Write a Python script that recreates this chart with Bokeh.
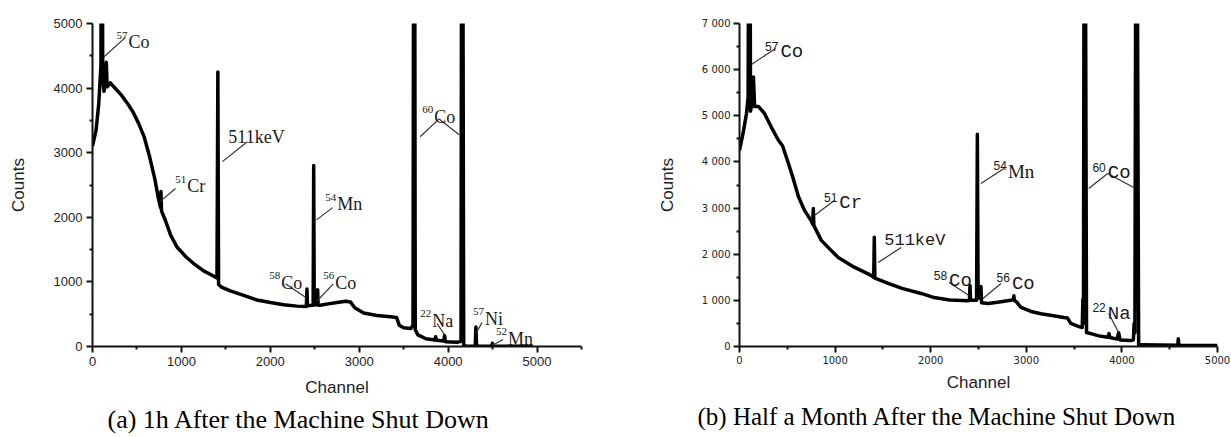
from bokeh.plotting import figure
from bokeh.layouts import row
from bokeh.models import Range1d, FixedTicker, Title, ColumnDataSource
from bokeh.core.properties import value
from bokeh.embed import file_html
from bokeh.resources import INLINE

# ---------------- data: (a) 1h after shut down ----------------
a_channel = [0, 40, 70, 95, 103, 107, 115, 130, 145, 155, 165, 200, 260, 320, 400, 460, 520, 580,
             640, 700, 740, 765, 770, 776, 820, 880, 950, 1050, 1150, 1250, 1350, 1400, 1410, 1418,
             1450, 1550, 1700, 1850, 2000, 2150, 2300, 2405, 2412, 2418, 2470, 2482, 2488, 2494,
             2525, 2532, 2538, 2560, 2650, 2750, 2850, 2900, 2950, 3050, 3200, 3350, 3420, 3450,
             3500, 3580, 3605, 3614, 3622, 3630, 3660, 3750, 3850, 3860, 3870, 3950, 3960, 3970,
             4100, 4145, 4153, 4162, 4175, 4200, 4305, 4312, 4320, 4490, 4497, 4505, 4950]
a_counts = [3100, 3350, 3750, 4350, 9000, 9000, 4150, 3950, 4100, 4400, 4020, 4080, 3990, 3900, 3750, 3620, 3450, 3250,
            2950, 2600, 2300, 2150, 2400, 2100, 1950, 1720, 1540, 1390, 1270, 1170, 1100, 1060, 4250, 960,
            920, 860, 790, 720, 680, 645, 625, 620, 890, 630, 640, 650, 2800, 640,
            650, 880, 640, 640, 660, 680, 700, 690, 600, 520, 480, 460, 450, 330,
            290, 280, 330, 9000, 9000, 260, 180, 120, 100, 150, 95, 85, 170, 75,
            65, 80, 9000, 9000, 20, 5, 5, 300, 5, 5, 50, 5, 5]

# ---------------- data: (b) half a month after shut down ----------------
b_channel = [0, 40, 73, 90, 100, 108, 115, 135, 146, 158, 200, 261, 334, 407, 450, 511, 560, 616, 680,
             752, 766, 772, 778, 856, 950, 1033, 1200, 1378, 1404, 1410, 1416, 1555, 1700, 1900, 2035,
             2200, 2390, 2405, 2411, 2417, 2480, 2488, 2496, 2520, 2526, 2532, 2600, 2700, 2840, 2865,
             2870, 2875, 2900, 2944, 3050, 3152, 3300, 3392, 3430, 3465, 3550, 3585, 3592, 3598, 3606,
             3614, 3630, 3674, 3760, 3851, 3865, 3875, 3950, 3966, 3980, 4092, 4120, 4128, 4136, 4148,
             4156, 4175, 4196, 4400, 4585, 4590, 4596, 5000]
b_counts = [4250, 4650, 5050, 5400, 12000, 12000, 5100, 5300, 5840, 5200, 5200, 5050, 4750, 4470, 4350, 3970, 3650, 3250, 2950,
            2720, 2650, 2990, 2620, 2300, 2100, 1930, 1720, 1540, 1500, 2370, 1480, 1370, 1260, 1150, 1060,
            1010, 990, 1000, 1320, 1000, 1000, 4600, 1050, 1050, 1300, 950, 930, 960, 1000, 1020,
            1100, 1000, 960, 850, 760, 710, 660, 630, 620, 500, 430, 410, 1030, 500, 12000,
            12000, 300, 280, 230, 200, 280, 195, 160, 300, 140, 130, 140, 500, 300, 12000,
            12000, 40, 40, 30, 25, 170, 25, 20]

# tick values / labels
a_xticks = [0, 1000, 2000, 3000, 4000, 5000]
a_yticks = [0, 1000, 2000, 3000, 4000, 5000]
b_xticks = [0, 1000, 2000, 3000, 4000, 5000]
b_yticks = [0, 1000, 2000, 3000, 4000, 5000, 6000, 7000]
b_ylabels = ["0", "1 000", "2 000", "3 000", "4 000", "5 000", "6 000", "7 000"]

# annotations (a)
a_el = ["Co", "Cr", "Mn", "Co", "Co", "Co", "Na", "Ni", "Mn"]
a_sup = ["57", "51", "54", "58", "56", "60", "22", "57", "52"]
a_lx = [404, 1067, 2753, 2124, 2730, 3843, 3820, 4416, 4674]
a_ly = [4710, 2477, 2200, 985, 985, 3554, 400, 430, 123]
a_kev = ("511keV", 1528, 3246)
a_lead_x0 = [371, 933, 2700, 2170, 2708, 3685, 3899, 3876, 4382, 4618, 1742]
a_lead_y0 = [4785, 2446, 2150, 970, 970, 3246, 3523, 354, 370, 108, 3170]
a_lead_x1 = [124, 764, 2520, 2404, 2528, 3899, 4124, 3966, 4315, 4494, 1461]
a_lead_y1 = [4477, 2246, 1960, 755, 708, 3523, 3277, 170, 215, 15, 2862]

# annotations (b)
b_el = ["Co", "Cr", "Co", "Co", "Co", "Na"]
b_sup = ["57", "51", "58", "56", "60", "22"]
b_lx = [428, 1044, 2192, 2850, 3852, 3852]
b_ly = [6372, 3100, 1409, 1365, 3750, 715]
b_mn = ("Mn", "54", 2808, 3793)
b_kev = ("511keV", 1514, 2297)
b_lead_x0 = [376, 992, 1691, 2766, 2192, 2735, 3653, 3852, 3862]
b_lead_y0 = [6459, 3164, 2146, 3858, 1387, 1365, 3424, 3750, 715]
b_lead_x1 = [125, 783, 1451, 2526, 2401, 2547, 3852, 4123, 3966]
b_lead_y1 = [6112, 2839, 1820, 3533, 1105, 1040, 3750, 3446, 303]

SERIF = value("Liberation Serif")
SANS = "Liberation Sans"
FIG_H = 436
FRAME_BOTTOM = 346


def style_axes(p, tick_font, tick_size, tick_out, tick_standoff, xlab_standoff, ylab_standoff):
    for ax in (p.xaxis[0], p.yaxis[0]):
        ax.axis_line_width = 2
        ax.axis_line_color = "#111111"
        ax.major_tick_line_width = 2
        ax.major_tick_line_color = "#111111"
        ax.minor_tick_line_width = 2
        ax.minor_tick_line_color = "#111111"
        ax.major_tick_in = 0
        ax.major_tick_out = tick_out
        ax.minor_tick_in = 0
        ax.minor_tick_out = 3
        ax.major_label_text_font = tick_font
        ax.major_label_text_font_size = tick_size
        ax.major_label_text_color = "#222222"
        ax.major_label_standoff = tick_standoff
        ax.axis_label_text_font = SANS
        ax.axis_label_text_font_size = "17px"
        ax.axis_label_text_font_style = "normal"
        ax.axis_label_text_color = "#222222"
    p.xaxis[0].axis_label_standoff = xlab_standoff
    p.yaxis[0].axis_label_standoff = ylab_standoff


def make_fig(width, xr, yr, borders):
    p = figure(width=width, height=FIG_H, x_range=Range1d(*xr), y_range=Range1d(*yr),
               output_backend="svg", toolbar_location=None, tools="",
               x_axis_label="Channel", y_axis_label="Counts")
    p.min_border_left, p.min_border_right, p.min_border_top, p.min_border_bottom = borders
    p.grid.visible = False
    p.outline_line_color = None
    p.background_fill_color = "white"
    p.border_fill_color = "white"
    return p


def minor(ticks, step):
    return [t + step for t in ticks]


# ---------------- figure (a) ----------------
p1 = make_fig(630, (0, 5500), (0, 5000), (92, 49, 21, FIG_H - FRAME_BOTTOM))
p1.xaxis[0].ticker = FixedTicker(ticks=a_xticks, minor_ticks=minor(a_xticks, 500))
p1.yaxis[0].ticker = FixedTicker(ticks=a_yticks, minor_ticks=minor(a_yticks[:-1], 500))
style_axes(p1, SANS, "13px", 6, 4, 9, 23)

p1.line(a_channel, a_counts, line_color="black", line_width=3.5, line_join="round")
p1.segment(x0=a_lead_x0, y0=a_lead_y0, x1=a_lead_x1, y1=a_lead_y1, line_color="#333333", line_width=1.2)
src_a = ColumnDataSource(dict(x=a_lx, y=a_ly, el=a_el, sup=a_sup))
p1.text(x="x", y="y", text="el", source=src_a, text_font=SERIF, text_font_size="18px",
        text_color="#1a1a1a", text_align="left", text_baseline="alphabetic")
p1.text(x="x", y="y", text="sup", source=src_a, text_font=SERIF, text_font_size="11px",
        text_color="#1a1a1a", text_align="right", text_baseline="alphabetic", x_offset=-1, y_offset=-7)
p1.text(x=[a_kev[1]], y=[a_kev[2]], text=[a_kev[0]], text_font=SERIF, text_font_size="18px",
        text_color="#1a1a1a", text_align="left", text_baseline="alphabetic")
p1.add_layout(Title(text="(a) 1h After the Machine Shut Down", align="left", offset=15,
                    text_font="Liberation Serif", text_font_size="26px", text_font_style="normal",
                    text_color="black", standoff=6), "below")

# ---------------- figure (b) ----------------
p2 = make_fig(601, (0, 5000), (0, 7000), (109, 14, 23, FIG_H - FRAME_BOTTOM))
p2.xaxis[0].ticker = FixedTicker(ticks=b_xticks, minor_ticks=minor(b_xticks[:-1], 500))
p2.yaxis[0].ticker = FixedTicker(ticks=b_yticks, minor_ticks=minor(b_yticks[:-1], 500))
p2.yaxis[0].major_label_overrides = {t: s for t, s in zip(b_yticks, b_ylabels)}
style_axes(p2, "DejaVu Sans", "10px", 6, 3, 6, 22)

p2.line(b_channel, b_counts, line_color="black", line_width=3.5, line_join="round")
p2.segment(x0=b_lead_x0, y0=b_lead_y0, x1=b_lead_x1, y1=b_lead_y1, line_color="#333333", line_width=1.2)
src_b = ColumnDataSource(dict(x=b_lx, y=b_ly, el=b_el, sup=b_sup))
MONO = value("Liberation Mono")
p2.text(x="x", y="y", text="el", source=src_b, text_font=MONO, text_font_size="19px",
        text_color="#1a1a1a", text_align="left", text_baseline="alphabetic")
p2.text(x="x", y="y", text="sup", source=src_b, text_font=value(SANS), text_font_size="12px",
        text_color="#1a1a1a", text_align="right", text_baseline="alphabetic", x_offset=-2, y_offset=-6)
p2.text(x=[b_mn[2]], y=[b_mn[3]], text=[b_mn[0]], text_font=SERIF, text_font_size="19px",
        text_color="#1a1a1a", text_align="left", text_baseline="alphabetic")
p2.text(x=[b_mn[2]], y=[b_mn[3]], text=[b_mn[1]], text_font=value(SANS), text_font_size="12px",
        text_color="#1a1a1a", text_align="right", text_baseline="alphabetic", x_offset=-1, y_offset=-6)
p2.text(x=[b_kev[1]], y=[b_kev[2]], text=[b_kev[0]], text_font=MONO, text_font_size="17px",
        text_color="#1a1a1a", text_align="left", text_baseline="alphabetic")
p2.add_layout(Title(text="(b) Half a Month After the Machine Shut Down", align="left", offset=-42,
                    text_font="Liberation Serif", text_font_size="25px", text_font_style="normal",
                    text_color="black", standoff=13), "below")

layout = row(p1, p2, spacing=0)
open("out.html", "w").write(file_html(layout, INLINE))
